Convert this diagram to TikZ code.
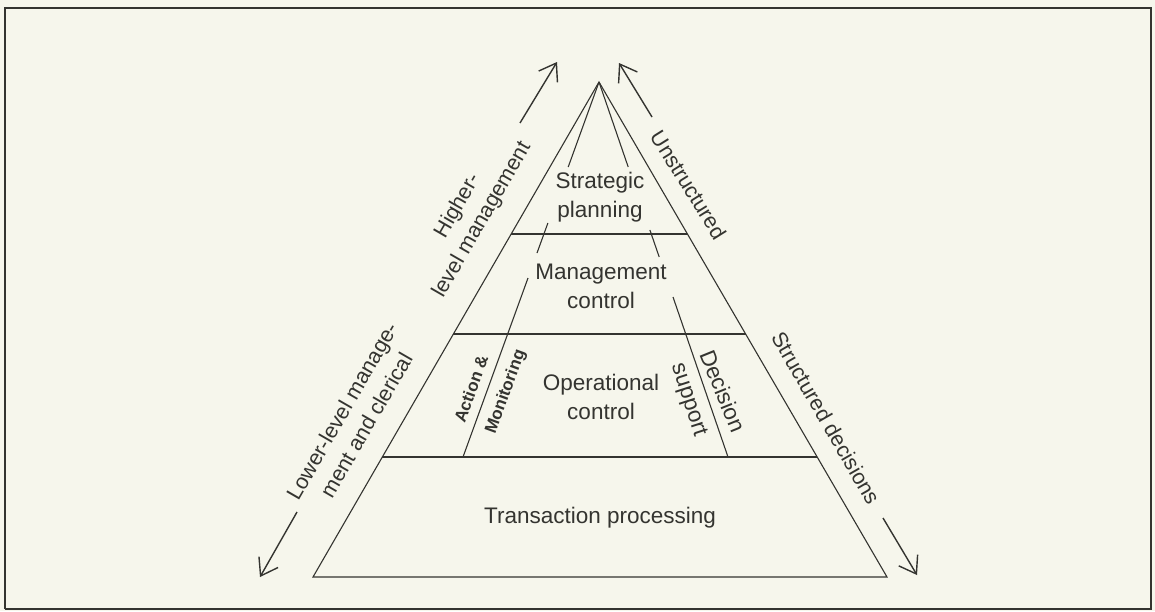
\documentclass[tikz,border=0pt]{standalone}
\usepackage{fontspec}
\setmainfont{Liberation Sans}
\usetikzlibrary{arrows.meta}
\definecolor{paper}{RGB}{246,246,236}
\definecolor{ink}{RGB}{52,52,48}
\tikzset{
  layer/.style={font=\fontsize{22.5}{29}\selectfont, align=center, inner sep=0pt},
  side/.style={font=\fontsize{21.5}{28}\selectfont, align=center, inner sep=0pt},
  flow/.style={font=\fontsize{17}{20}\selectfont\bfseries, inner sep=0pt},
  trend/.style={-{Straight Barb[length=16pt,width=22pt]}, line width=1.4pt},
}
\begin{document}
\begin{tikzpicture}[x=1pt,y=-1pt,ink,line width=1.1pt]
\fill[paper] (0,0) rectangle (1155,611);
\useasboundingbox (0,0) rectangle (1155,611);
\draw[line width=1.6pt] (5,609) |- (1151,8) |- (5,609);
\draw[line width=2.6pt] (5,8) -- (1151,8);
\coordinate (apex) at (599,82);
\coordinate (baseL) at (313,577);
\coordinate (baseR) at (887,577);
\draw (baseL) -- (apex) -- (baseR) -- cycle;
\draw (511.2,234) -- (687.4,234);
\draw (453.4,334) -- (745.6,334);
\draw (382.3,457) -- (817.2,457);
\draw (apex) -- (568.2,167);
\draw (547.9,223) -- (537.0,253);
\draw (528.0,278) -- (463,457);
\draw (apex) -- (628.2,167);
\draw (649.9,230) -- (659.2,257);
\draw (673.0,297) -- (728,457);
\node[layer] (strategic) at (600,197) {Strategic\\planning};
\node[layer] (management) at (601,286) {Management\\control};
\node[layer] (operational) at (601,397) {Operational\\control};
\node[layer] (transaction) at (600,518) {Transaction processing};
\node[flow, rotate=70] (action) at (471,389) {Action \&};
\node[flow, rotate=70] (monitoring) at (506,392) {Monitoring};
\node[layer, rotate=-68] (decision) at (723,391) {Decision};
\node[layer, rotate=-72] (support) at (688,400) {support};
\node[side, rotate=60] (higher) at (470,213) {Higher-\\level management};
\node[side, rotate=-58] (unstructured) at (689,185) {Unstructured};
\node[side, rotate=60] (lower) at (354,418) {Lower-level manage-\\ment and clerical};
\node[side, rotate=-60] (structured) at (826,418) {Structured decisions};
\coordinate (upL0) at (520,123);
\coordinate (upL1) at (557,62);
\coordinate (upR0) at (652,117);
\coordinate (upR1) at (619,63);
\coordinate (dnL0) at (297,512);
\coordinate (dnL1) at (260,577);
\coordinate (dnR0) at (883,518);
\coordinate (dnR1) at (917,575);
\draw[trend] (upL0) -- (upL1);
\draw[trend] (upR0) -- (upR1);
\draw[trend] (dnL0) -- (dnL1);
\draw[trend] (dnR0) -- (dnR1);
\end{tikzpicture}
\end{document}
